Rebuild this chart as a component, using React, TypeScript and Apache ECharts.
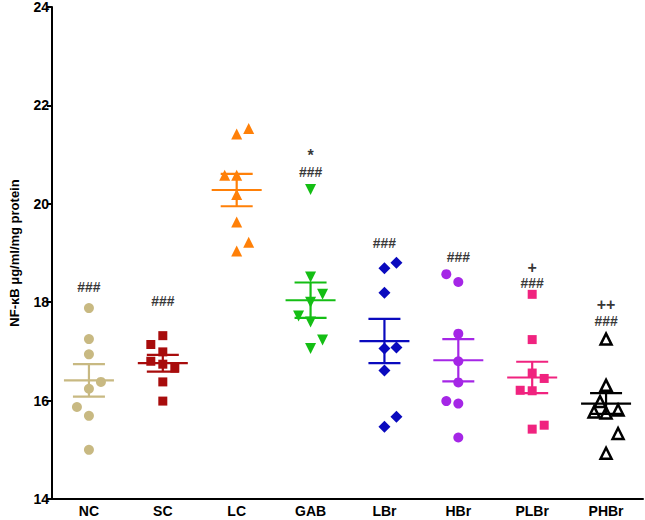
import React, { useEffect, useRef } from "react";
import * as echarts from "echarts";

const categories = ["NC", "SC", "LC", "GAB", "LBr", "HBr", "PLBr", "PHBr"];

const ncValues = [17.88, 17.25, 16.94, 16.38, 16.24, 15.87, 15.69, 15.0];
const ncSides = [0, 0, 0, 1, 0, -1, 0, 0];
const scValues = [17.32, 17.14, 16.99, 16.8, 16.74, 16.66, 16.38, 15.99];
const scSides = [0, -1, 0, -1, 0, 1, 0, 0];
const lcValues = [21.53, 21.42, 20.58, 20.58, 20.19, 19.63, 19.22, 19.04];
const lcSides = [1, 0, -1, 0, 0, 0, 1, 0];
const gabValues = [20.29, 18.51, 18.16, 18.0, 17.72, 17.6, 17.23, 17.06];
const gabSides = [0, 0, 1, 0, -1, 0, 1, 0];
const lbrValues = [18.8, 18.69, 18.19, 17.08, 17.06, 16.61, 15.67, 15.47];
const lbrSides = [1, 0, 0, 1, 0, 0, 1, 0];
const hbrValues = [18.57, 18.41, 17.36, 16.8, 16.37, 15.99, 15.94, 15.25];
const hbrSides = [-1, 0, 0, 0, 0, -1, 0, 0];
const plbrValues = [18.16, 17.24, 16.56, 16.45, 16.21, 16.2, 15.5, 15.42];
const plbrSides = [0, 0, 0, 1, -1, 0, 1, 0];
const phbrValues = [17.25, 16.31, 15.98, 15.81, 15.77, 15.75, 15.33, 14.93];
const phbrSides = [0, 0, -0.5, 1, -1, 0, 1, 0];

const means = [16.41, 16.76, 20.28, 18.04, 17.21, 16.82, 16.47, 15.94];
const sems = [0.33, 0.17, 0.33, 0.36, 0.45, 0.43, 0.32, 0.21];

const annotationTopMarks = ["", "", "", "*", "", "", "+", "++"];
const annotationMarks = ["###", "###", "", "###", "###", "###", "###", "###"];
const annotationLevels = [18.3, 18.03, 0, 20.65, 19.2, 18.92, 18.39, 17.62];

const yTicks = { min: 14, max: 24, interval: 2 };

const groups = [
  { values: ncValues, sides: ncSides, color: "#C8B982", symbol: "circle", size: 10 },
  { values: scValues, sides: scSides, color: "#A80C0C", symbol: "rect", size: 9 },
  { values: lcValues, sides: lcSides, color: "#FF8008", symbol: "triangle", size: 11 },
  { values: gabValues, sides: gabSides, color: "#14BE14", symbol: "path://M0,0 L10,0 L5,9 Z", size: 11 },
  { values: lbrValues, sides: lbrSides, color: "#0A0ABE", symbol: "diamond", size: 12 },
  { values: hbrValues, sides: hbrSides, color: "#A526E6", symbol: "circle", size: 10 },
  { values: plbrValues, sides: plbrSides, color: "#F0237F", symbol: "rect", size: 9 },
  { values: phbrValues, sides: phbrSides, color: "#000000", symbol: "triangle", size: 11 },
];

const FONT = "'Liberation Sans', Arial, sans-serif";
const JITTER = 12;

export default function App() {
  const ref = useRef<HTMLDivElement>(null);
  useEffect(() => {
    document.body.style.margin = "0";
    if (!ref.current) return;
    const chart = echarts.init(ref.current, null, { renderer: "svg" });

    const scatterSeries = groups.map((g, gi) => ({
      type: "scatter",
      name: categories[gi],
      symbol: g.symbol,
      symbolSize: g.size,
      z: 2,
      itemStyle:
        gi === 7
          ? { color: "#ffffff", borderColor: "#000000", borderWidth: 2.5, opacity: 1 }
          : { color: g.color, opacity: 1 },
      data: g.values.map((v, i) => ({
        value: [gi, v],
        symbolOffset: [g.sides[i] * JITTER, 0],
      })),
    }));

    const errorSeries = {
      type: "custom",
      z: 3,
      data: means.map((m, i) => [i, m, sems[i]]),
      renderItem: (params: any, api: any) => {
        const x = api.value(0);
        const m = api.value(1);
        const s = api.value(2);
        const c = api.coord([x, m]);
        const t = api.coord([x, m + s]);
        const b = api.coord([x, m - s]);
        const color = groups[params.dataIndex].color;
        const st = { stroke: color, lineWidth: 2.2 };
        return {
          type: "group",
          children: [
            { type: "line", shape: { x1: c[0] - 25, y1: c[1], x2: c[0] + 25, y2: c[1] }, style: st },
            { type: "line", shape: { x1: t[0], y1: t[1], x2: b[0], y2: b[1] }, style: st },
            { type: "line", shape: { x1: t[0] - 16, y1: t[1], x2: t[0] + 16, y2: t[1] }, style: st },
            { type: "line", shape: { x1: b[0] - 16, y1: b[1], x2: b[0] + 16, y2: b[1] }, style: st },
          ],
        };
      },
    };

    const annotationSeries = {
      type: "scatter",
      symbolSize: 0,
      z: 4,
      silent: true,
      data: annotationMarks
        .map((t, i) => ({ value: [i, annotationLevels[i]], text: t, top: annotationTopMarks[i] }))
        .filter((d) => d.text !== ""),
      label: {
        show: true,
        position: "top",
        distance: 0,
        offset: [0, 8],
        formatter: (p: any) =>
          p.data.top ? `{top|${p.data.top}}\n{hash|${p.data.text}}` : `{hash|${p.data.text}}`,
        color: "#000",
        fontFamily: FONT,
        fontWeight: "bold",
        fontSize: 14,
        align: "center",
        rich: {
          hash: { fontFamily: FONT, fontWeight: "bold", fontSize: 14, lineHeight: 16, color: "#000" },
          top: { fontFamily: FONT, fontWeight: "bold", fontSize: 16, lineHeight: 16, color: "#000" },
        },
      },
    };

    chart.setOption({
      animation: false,
      backgroundColor: "#ffffff",
      grid: { left: 45, right: 2, top: 6, bottom: 21, containLabel: false },
      xAxis: {
        type: "category",
        data: categories,
        boundaryGap: true,
        axisLine: { lineStyle: { color: "#000", width: 2 } },
        axisTick: { alignWithLabel: true, length: 5, lineStyle: { color: "#000", width: 2 } },
        axisLabel: { color: "#000", fontFamily: FONT, fontWeight: "bold", fontSize: 14, margin: 5 },
        splitLine: { show: false },
      },
      yAxis: {
        type: "value",
        min: yTicks.min,
        max: yTicks.max,
        interval: yTicks.interval,
        name: "NF-κB μg/ml/mg protein",
        nameLocation: "middle",
        nameRotate: 90,
        nameGap: 31,
        nameTextStyle: { color: "#000", fontFamily: FONT, fontWeight: "bold", fontSize: 13 },
        axisLine: { show: true, lineStyle: { color: "#000", width: 2 } },
        axisTick: { show: true, length: 5, lineStyle: { color: "#000", width: 2 } },
        axisLabel: { color: "#000", fontFamily: FONT, fontWeight: "bold", fontSize: 14, margin: 3 },
        splitLine: { show: false },
      },
      series: [...scatterSeries, errorSeries, annotationSeries],
    });
    return () => chart.dispose();
  }, []);
  return <div ref={ref} style={{ width: 645, height: 520 }} />;
}
